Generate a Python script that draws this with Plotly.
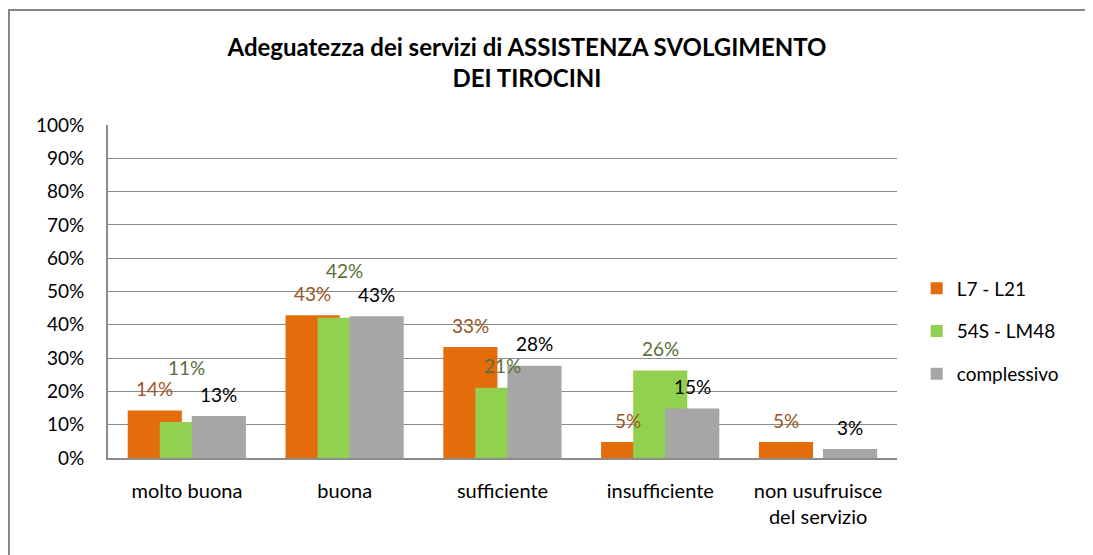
import plotly.graph_objects as go

categories = ["molto buona", "buona", "sufficiente", "insufficiente", "non usufruisce<br>del servizio"]
series_names = ["L7 - L21", "54S - LM48", "complessivo"]
l7_l21 = [0.143, 0.429, 0.333, 0.048, 0.048]
s54_lm48 = [0.108, 0.421, 0.211, 0.263, 0.0]
complessivo = [0.126, 0.426, 0.277, 0.149, 0.027]
y_ticks = [0, 0.1, 0.2, 0.3, 0.4, 0.5, 0.6, 0.7, 0.8, 0.9, 1.0]
y_tick_labels = ["0%", "10%", "20%", "30%", "40%", "50%", "60%", "70%", "80%", "90%", "100%"]

bar_colors = ["#E46C0A", "#92D050", "#A6A6A6"]
label_colors = ["#9C5424", "#5B6E39", "#000000"]
offsets = [-0.375, -0.172, 0.031]
bar_width = 0.343
# extra vertical lift (px) of individual labels, as moved in the original
label_lift = [
    [0, 0, 0, 0, 0],
    [33, 25, 0, 0, 0],
    [0, 0, 0, 0, 0],
]

FONT = "Lato, 'Open Sans', sans-serif"

fig = go.Figure()
all_vals = [l7_l21, s54_lm48, complessivo]
for k, (name, vals) in enumerate(zip(series_names, all_vals)):
    fig.add_trace(go.Bar(
        x=list(range(len(categories))), y=vals, name=name,
        marker=dict(color=bar_colors[k], line=dict(width=0)),
        offset=offsets[k], width=bar_width,
        legendgroup=name,
    ))

annotations = []
for k, vals in enumerate(all_vals):
    for i, v in enumerate(vals):
        if v == 0:
            continue
        annotations.append(dict(
            x=i + offsets[k] + bar_width / 2, y=v, xref="x", yref="y",
            text=f"{round(v * 100):.0f}%", showarrow=False,
            yanchor="middle", yshift=22 + label_lift[k][i],
            font=dict(family=FONT, size=19, color=label_colors[k]),
        ))

fig.update_layout(
    width=1093, height=555,
    margin=dict(l=100, r=204, t=117, b=105),
    paper_bgcolor="white", plot_bgcolor="white",
    barmode="overlay",
    title=dict(
        text="<b>Adeguatezza dei servizi di ASSISTENZA SVOLGIMENTO<br>DEI TIROCINI</b>",
        x=519 / 1093, xanchor="center", y=1 - 48 / 555, yanchor="middle",
        font=dict(family=FONT, size=24, color="black"),
    ),
    xaxis=dict(
        tickmode="array", tickvals=list(range(len(categories))), ticktext=categories,
        range=[-0.5, len(categories) - 0.5],
        showgrid=False, showline=True, linecolor="#8C8C8C", linewidth=2,
        ticks="", tickfont=dict(family=FONT, size=20, color="black"),
        ticklabelstandoff=14,
    ),
    yaxis=dict(
        range=[0, 1.0], tickvals=y_ticks, ticktext=y_tick_labels,
        showgrid=True, gridcolor="#8C8C8C", gridwidth=1,
        showline=True, linecolor="#8C8C8C", linewidth=2,
        zeroline=False, ticks="",
        tickfont=dict(family=FONT, size=19, color="black"),
        ticklabelstandoff=18,
    ),
    legend=dict(
        x=1.025, y=0.38, xanchor="left", yanchor="middle",
        font=dict(family=FONT, size=19, color="black"),
        traceorder="grouped", tracegroupgap=15,
        bgcolor="rgba(0,0,0,0)",
    ),
    annotations=annotations,
    showlegend=True,
)

fig.add_shape(
    type="rect", xref="paper", yref="paper",
    x0=(9 - 108) / 789, x1=(1091 - 108) / 789,
    y0=(458 - 570) / 333, y1=(458 - 10) / 333,
    line=dict(color="#878787", width=2), fillcolor="rgba(0,0,0,0)", layer="below",
)

fig.write_html("out.html")
